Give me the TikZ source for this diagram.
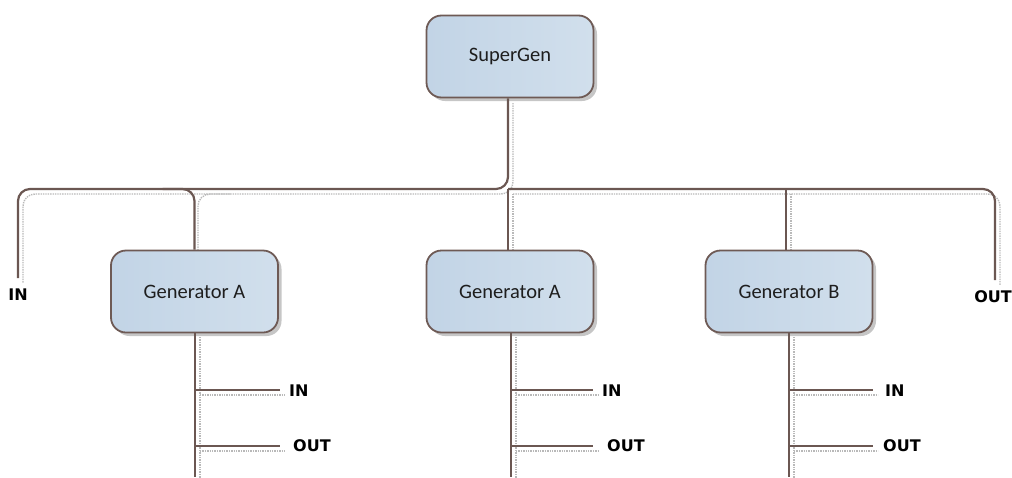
\documentclass[tikz,border=0pt]{standalone}
\usepackage{fontspec}
\setmainfont{Carlito}
\newfontfamily\portfont{DejaVu Sans}
\usetikzlibrary{shadows}
\definecolor{boxline}{HTML}{6E5A55}
\definecolor{wire}{HTML}{6B5752}
\definecolor{fillA}{HTML}{C2D4E6}
\definecolor{fillB}{HTML}{D1DFEC}
\definecolor{ink}{HTML}{1E1E1E}
\begin{document}
\begin{tikzpicture}[x=1pt,y=-1pt,
  genbox/.style={draw=boxline, line width=1.8pt, rounded corners=15pt,
    left color=fillA, right color=fillB, minimum width=167pt, minimum height=82pt,
    inner sep=0pt, text=ink, font=\fontsize{20.5}{24}\selectfont,
    general shadow={shadow xshift=3.5pt, shadow yshift=-3.5pt, fill=gray!45}},
  wireline/.style={draw=wire, line width=2.2pt},
  curvewire/.style={wireline, rounded corners=12pt},
  ghost/.style={draw=gray!55, line width=1.4pt, densely dotted},
  ghostcurve/.style={ghost, rounded corners=12pt},
  port/.style={font=\portfont\bfseries\fontsize{16}{19}\selectfont, text=black, inner sep=0pt}]
\useasboundingbox (0,0) rectangle (1012,477);

% junctions and free ends
\coordinate (hub)  at (508,189);
\coordinate (inTop)  at (18,278);
\coordinate (outTop) at (995,280);

% shadow copies of the wiring, shifted down and right
\begin{scope}[shift={(5,5)}]
  \draw[ghostcurve] (508,98) -- (508,189) -- (18,189) -- (18,278);
  \draw[ghostcurve] (225,189) -- (193,189) -- (193,251);
  \draw[ghostcurve] (508,189) -- (995,189) -- (995,280);
  \draw[ghost] (508,189) -- (508,251);
  \draw[ghost] (786,189) -- (786,251);
  \foreach \x/\e in {195/280, 511/593, 789/873}{
    \draw[ghost] (\x,332) -- (\x,477);
    \draw[ghost] (\x,390) -- (\e,390);
    \draw[ghost] (\x,446) -- (\e,446);
  }
\end{scope}

% boxes
\node[genbox] (super) at (510,56.5) {SuperGen};
\node[genbox] (genA1) at (194.5,291.5) {Generator A};
\node[genbox] (genA2) at (510,291.5) {Generator A};
\node[genbox] (genB)  at (789,291.5) {Generator B};

% top-level wiring
\draw[curvewire] (super.south -| hub) -- (hub) -- (inTop |- hub) -- (inTop);
\draw[curvewire] ([xshift=-32pt]genA1.north |- hub) -- (genA1.north |- hub) -- (genA1.north);
\draw[curvewire] (hub) -- (outTop |- hub) -- (outTop);
\draw[wireline] (hub) -- (genA2.north -| hub);
\draw[wireline] ([xshift=-3pt]genB.north |- hub) -- ([xshift=-3pt]genB.north);

% outer ports
\node[port, anchor=north] (inL) at ([yshift=-11pt]inTop) {IN};
\node[port, anchor=north] (outR) at ([yshift=-10pt,xshift=-2pt]outTop) {OUT};

% per-generator wiring and ports
\foreach \g/\x/\e/\ix/\ox in {genA1/195/280/289/293, genA2/511/593/602/607, genB/789/873/885/883}{
  \coordinate (\g-bot) at (\x,477);
  \coordinate (\g-i) at (\x,390);
  \coordinate (\g-o) at (\x,446);
  \node[port, anchor=west] (\g-in) at (\ix,391) {IN};
  \node[port, anchor=west] (\g-out) at (\ox,446) {OUT};
  \draw[wireline] (\g.south -| \g-bot) -- (\g-bot);
  \draw[wireline] (\g-i) -- (\e,390);
  \draw[wireline] (\g-o) -- (\e,446);
}
\end{tikzpicture}
\end{document}
